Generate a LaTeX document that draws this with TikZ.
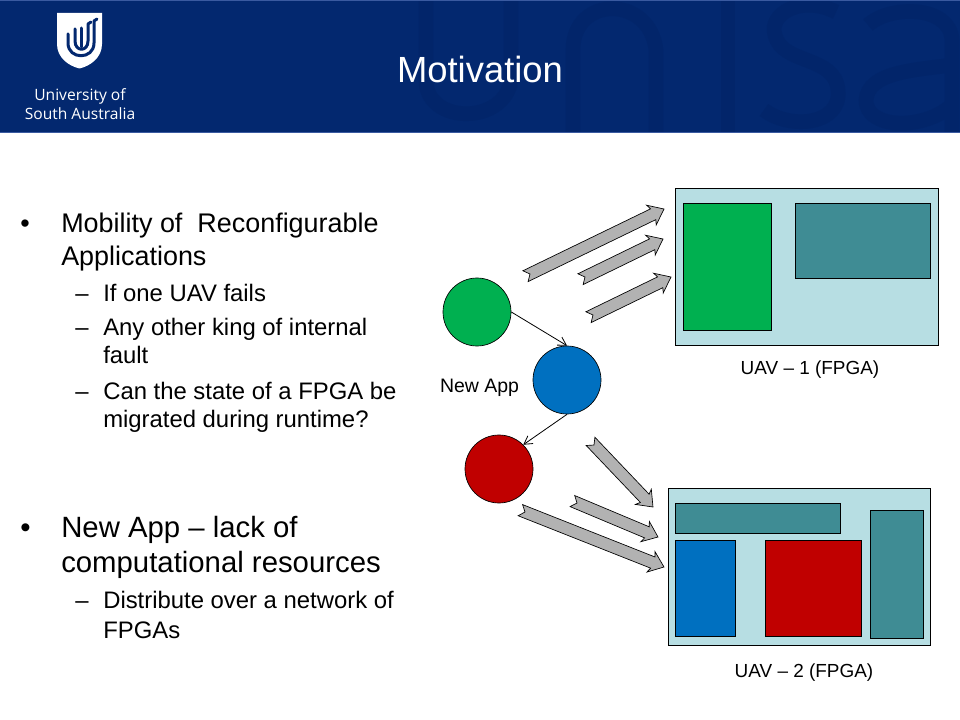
\documentclass[tikz,border=0pt]{standalone}
\usepackage{fontspec}
\setmainfont{Liberation Sans}
\newfontfamily\logofont{Open Sans}
\usetikzlibrary{arrows.meta}
\definecolor{banner}{HTML}{03286F}
\definecolor{bannerdark}{HTML}{02256A}
\definecolor{bannerline}{HTML}{3A5AA0}
\definecolor{fpga}{HTML}{B7DEE3}
\definecolor{tealbox}{HTML}{3F8C94}
\definecolor{appgreen}{HTML}{00B050}
\definecolor{appblue}{HTML}{0070C0}
\definecolor{appred}{HTML}{C00000}
\definecolor{flow}{HTML}{B2B2B2}
\newcommand{\flowarrow}[4]{%
  \pgfmathsetmacro{\fdx}{#3-(#1)}\pgfmathsetmacro{\fdy}{#4-(#2)}%
  \pgfmathsetmacro{\flen}{veclen(\fdx,\fdy)}\pgfmathsetmacro{\fang}{atan2(-\fdy,\fdx)}%
  \begin{scope}[shift={(#1,#2)},rotate=\fang]
    \draw[flowshape] (-5,-6) -- (\flen-12,-6) -- (\flen-14,-11) -- (\flen,0) -- (\flen-14,11) -- (\flen-12,6) -- (-5,6) -- (0,0) -- cycle;
  \end{scope}}
\tikzset{
  x=0.75pt,y=-0.75pt,
  flowshape/.style={draw=black,fill=flow,line width=0.5pt,line join=miter},
  panel/.style={draw=black,line width=0.5pt},
  app/.style={circle,draw=black,line width=0.5pt,minimum size=51pt,inner sep=0pt},
  link/.style={draw=black,line width=0.6pt,-{Straight Barb[length=6pt,width=7pt]}},
  lone/.style={anchor=base west,inner sep=0pt,font=\fontsize{20.2}{24}\selectfont},
  ltwo/.style={anchor=base west,inner sep=0pt,font=\fontsize{17.9}{21}\selectfont},
  lbig/.style={anchor=base west,inner sep=0pt,font=\fontsize{22}{26}\selectfont},
  caption/.style={inner sep=0pt,font=\fontsize{14.2}{17}\selectfont},
  logomark/.style={line width=2.25pt,draw=banner,line cap=round,line join=round},
  logotext/.style={anchor=base,inner sep=0pt,white,font=\logofont\fontsize{11.7}{14}\selectfont},
  wm/.style={line width=11pt,draw=bannerdark},
}
\begin{document}
\begin{tikzpicture}
\useasboundingbox (0,0) rectangle (960,720);
\fill[white] (0,0) rectangle (960,720);
% banner
\fill[banner] (0,0) rectangle (960,133);
\begin{scope}
  \clip (0,1) rectangle (960,132);
  \draw[wm] (426,-10) -- (426,80) .. controls (426,125) and (505,125) .. (511,80) -- (511,-10);
  \draw[wm] (573,140) -- (573,50) .. controls (573,-5) and (650,-5) .. (656,50) -- (656,140);
  \draw[wm] (728,-10) -- (728,140);
  \draw[wm] (836,12) .. controls (800,-6) and (768,15) .. (775,35) .. controls (782,65) and (835,55) .. (838,90) .. controls (842,125) and (790,130) .. (764,110);
  \draw[wm] (868,25) .. controls (890,5) and (950,5) .. (952,40) -- (952,140);
  \draw[wm] (952,65) .. controls (915,70) and (868,72) .. (866,100) .. controls (866,130) and (925,130) .. (952,105);
\end{scope}
\draw[bannerline,line width=0.8pt] (0,0.7) -- (960,0.7);
\draw[bannerline,line width=0.8pt] (0,132.5) -- (960,132.5);
% logo
\fill[white] (57,13) -- (102,13) -- (102,44) .. controls (102,58) and (90,66) .. (79.5,68.5) .. controls (69,66) and (57,58) .. (57,44) -- cycle;
\draw[logomark] (68,34) -- (68,43) .. controls (68,60) and (94,60) .. (94,43) -- (94,21) -- (97,19);
\draw[logomark] (75,29) -- (75,41) .. controls (75,52) and (88,52) .. (88,41) -- (88,24) -- (91,22);
\draw[logomark] (81,28) -- (81,47);
\node[logotext] (logoa) at (80,101) {University of};
\node[logotext] (logob) at (80,120) {South Australia};
\node[white,inner sep=0pt,font=\fontsize{27.3}{32}\selectfont] (title) at (480,69) {Motivation};
% left text
\node[lone] (b1) at (20,233) {•};
\node[lone] (t1a) at (61,233) {Mobility of\ \ Reconfigurable};
\node[lone] (t1b) at (61,265.5) {Applications};
\node[ltwo] (d1) at (75,301) {–};
\node[ltwo] (s1) at (103,301) {If one UAV fails};
\node[ltwo] (d2) at (75,335) {–};
\node[ltwo] (s2a) at (103,335) {Any other king of internal};
\node[ltwo] (s2b) at (103,363) {fault};
\node[ltwo] (d3) at (75,399) {–};
\node[ltwo] (s3a) at (103,399) {Can the state of a FPGA be};
\node[ltwo] (s3b) at (103,427) {migrated during runtime?};
\node[lbig] (b2) at (20,537) {•};
\node[lbig] (t2a) at (61,537) {New App – lack of};
\node[lbig] (t2b) at (61,572) {computational resources};
\node[ltwo] (d4) at (75,608) {–};
\node[ltwo] (s4a) at (103,608) {Distribute over a network of};
\node[ltwo] (s4b) at (103,638) {FPGAs};
% FPGA panels
\draw[panel,fill=fpga] (675,188) rectangle (938.5,345.5);
\draw[panel,fill=appgreen] (683,203) rectangle (771.5,330);
\draw[panel,fill=tealbox] (795,203) rectangle (930.5,278);
\draw[panel,fill=fpga] (668,488) rectangle (930.5,645.5);
\draw[panel,fill=tealbox] (675,503) rectangle (840.5,533);
\draw[panel,fill=appblue] (675,540) rectangle (735.5,636.5);
\draw[panel,fill=appred] (765,540) rectangle (861.5,636.5);
\draw[panel,fill=tealbox] (870,510) rectangle (923.5,638.5);
\node[caption] (u1) at (810,370) {UAV – 1 (FPGA)};
\node[caption] (u2) at (804,672.5) {UAV – 2 (FPGA)};
% application graph
\node[app,fill=appgreen] (g) at (477,312) {};
\node[app,fill=appblue] (b) at (567,380) {};
\node[app,fill=appred] (r) at (499,469) {};
\draw[link] (g.east) -- (b.north);
\draw[link] (b.south) -- (r.north east);
\node[inner sep=0pt,font=\fontsize{14.6}{17}\selectfont] (na) at (479.5,388) {New App};
% flow arrows
\flowarrow{530}{274}{664}{209}
\flowarrow{585}{277}{663}{239}
\flowarrow{593}{315}{671}{277}
\flowarrow{594}{445}{653}{507}
\flowarrow{577}{503}{658}{537}
\flowarrow{525}{512}{664}{567}
\end{tikzpicture}
\end{document}
